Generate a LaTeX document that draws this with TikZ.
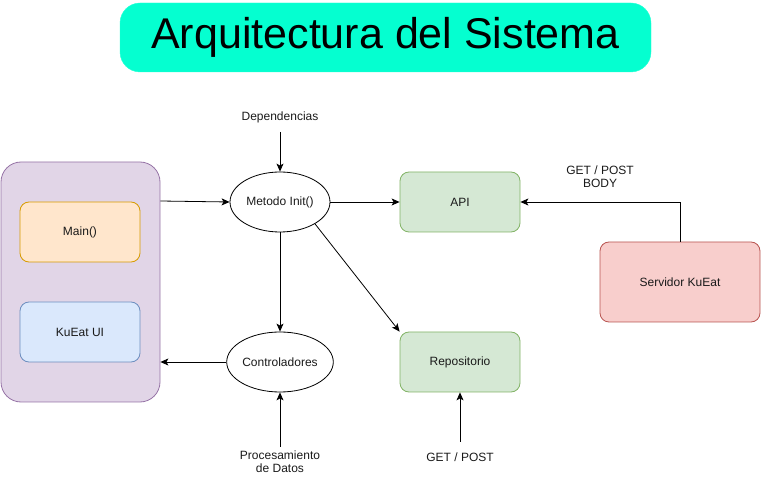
\documentclass[tikz,border=0pt]{standalone}
\usepackage{fontspec}
\setmainfont{Liberation Sans}
\usetikzlibrary{arrows.meta,shapes.geometric}
\definecolor{titlefill}{HTML}{05FFD0}
\definecolor{purfill}{HTML}{E1D5E7}
\definecolor{purdraw}{HTML}{9673A6}
\definecolor{orfill}{HTML}{FFE6CC}
\definecolor{ordraw}{HTML}{D79B00}
\definecolor{blfill}{HTML}{DAE8FC}
\definecolor{bldraw}{HTML}{6C8EBF}
\definecolor{grfill}{HTML}{D5E8D4}
\definecolor{grdraw}{HTML}{82B366}
\definecolor{rdfill}{HTML}{F8CECC}
\definecolor{rddraw}{HTML}{B85450}
\definecolor{txt}{HTML}{1A1A1A}
\begin{document}
\begin{tikzpicture}[x=1pt,y=-1pt,
  box/.style={draw,rounded corners=9pt,line width=0.8pt,minimum width=120pt,minimum height=60pt,inner sep=0pt,font=\fontsize{12}{14}\selectfont,text=txt},
  ell/.style={draw,ellipse,line width=0.8pt,minimum width=100pt,minimum height=60pt,inner sep=0pt,font=\fontsize{12}{14}\selectfont,text=txt},
  lbl/.style={font=\fontsize{12}{14}\selectfont,align=center,text=txt,inner sep=0pt},
  arr/.style={-{Stealth[length=8pt,width=7pt,inset=2pt]},line width=0.8pt}]
\useasboundingbox (0,0) rectangle (761,478);
\node[draw=titlefill!85!white,fill=titlefill,rounded corners=20pt,minimum width=531pt,minimum height=69pt,inner sep=0pt,font=\fontsize{43}{48}\selectfont] (title) at (385.5,37.5) {Arquitectura del Sistema};
\node[draw=purdraw,fill=purfill,rounded corners=20pt,minimum width=159pt,minimum height=240pt,line width=0.8pt,inner sep=0pt] (app) at (80.5,282) {};
\node[box,draw=ordraw,fill=orfill] (main) at (80,232) {Main()};
\node[box,draw=bldraw,fill=blfill] (ui) at (80,332) {KuEat UI};
\node[ell] (init) at (280,202) {Metodo Init()};
\node[ell] (ctrl) at (280,362) {Controladores};
\node[box,draw=grdraw,fill=grfill] (api) at (460,202) {API};
\node[box,draw=grdraw,fill=grfill] (repo) at (460,362) {Repositorio};
\node[box,draw=rddraw,fill=rdfill,minimum width=160pt,minimum height=80pt] (srv) at (680,282) {Servidor KuEat};
\node[lbl] (dep) at (280,117) {Dependencias};
\node[lbl] (proc) at (280,462) {Procesamiento\\[-1pt]de Datos};
\node[lbl] (gp) at (460,457) {GET / POST};
\node[lbl] (gpb) at (600,177) {GET / POST\\[-1pt]BODY};
\coordinate (depb) at (280,132);
\coordinate (procb) at (280,447);
\coordinate (gpt) at (460,442);
\draw[arr] (depb) -- (init.north);
\draw[arr] (app.east |- 0,201) -- (init.west);
\draw[arr] (init.east) -- (api.west);
\draw[arr] (init.-32) -- (repo.north west);
\draw[arr] (init.south) -- (ctrl.north);
\draw[arr] (ctrl.west) -- (app.east |- ctrl.west);
\draw[arr] (procb) -- (ctrl.south);
\draw[arr] (gpt) -- (repo.south);
\draw[arr] (srv.north) |- (api.east);
\end{tikzpicture}
\end{document}
